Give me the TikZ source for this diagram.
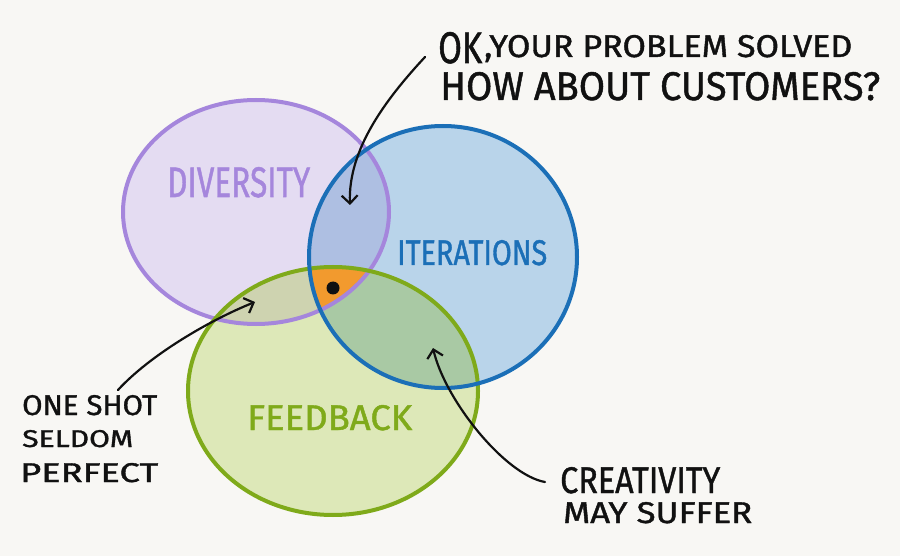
\documentclass[tikz,border=0pt]{standalone}
\usepackage{fontspec}
\setmainfont{Fira Sans}
\usepackage{graphicx}
\usetikzlibrary{arrows.meta}
\definecolor{bg}{HTML}{F8F7F4}
\definecolor{pfill}{HTML}{E4DCF2}
\definecolor{pline}{HTML}{A586DC}
\definecolor{bfill}{HTML}{B9D4EA}
\definecolor{bline}{HTML}{1B6FB7}
\definecolor{gfill}{HTML}{DDE8B8}
\definecolor{gline}{HTML}{7FAA1A}
\definecolor{pbfill}{HTML}{AEBFE2}
\definecolor{bgfill}{HTML}{A9C9A4}
\definecolor{pgfill}{HTML}{CED3B0}
\definecolor{orng}{HTML}{F29A2E}
\definecolor{ink}{HTML}{111111}
\newcommand\fitbox[3]{\resizebox{#1pt}{#2pt}{\addfontfeature{FakeBold=1.2}#3}}
\def\pathP{(256,212) ellipse [x radius=133pt, y radius=112pt]}
\def\pathB{(443,257) ellipse [x radius=134pt, y radius=131pt]}
\def\pathG{(333,391) ellipse [x radius=145pt, y radius=124pt]}
\begin{document}
\begin{tikzpicture}[x=1pt,y=-1pt,
  lbl/.style={inner sep=0pt, anchor=base west},
  rim/.style={line width=4pt},
  pointer/.style={ink, line width=2.2pt, line cap=round, -{Straight Barb[length=8pt,width=16pt,line width=2.2pt]}}]
\fill[bg] (0,0) rectangle (900,556);
\useasboundingbox (0,0) rectangle (900,556);
% fills
\fill[pfill] \pathP;
\fill[bfill] \pathB;
\fill[gfill] \pathG;
\begin{scope}\clip \pathP; \fill[pbfill] \pathB; \end{scope}
\begin{scope}\clip \pathB; \fill[bgfill] \pathG; \end{scope}
\begin{scope}\clip \pathP; \fill[pgfill] \pathG; \end{scope}
\begin{scope}\clip \pathP; \clip \pathB; \fill[orng] \pathG; \end{scope}
% outlines
\draw[rim, pline] \pathP;
\draw[rim, gline] \pathG;
\draw[rim, bline] \pathB;
\fill[ink] (333,288) circle [radius=6.5pt];
% region labels
\node[lbl, text=pline] (div) at (167,197) {\fitbox{143}{30}{DIVERSITY}};
\node[lbl, text=bline] (ite) at (397,265) {\fitbox{150}{25}{ITERATIONS}};
\node[lbl, text=gline] (fee) at (247,430) {\fitbox{165}{25}{FEEDBACK}};
% annotations
\node[lbl, text=ink] (ok) at (438,63) {\fitbox{44}{31}{OK}};
\node[lbl, text=ink] (l1) at (484,57) {\fitbox{368}{22}{,YOUR PROBLEM SOLVED}};
\node[lbl, text=ink] (l2) at (440,100) {\fitbox{440}{28}{HOW ABOUT CUSTOMERS?}};
\node[lbl, text=ink] (one) at (22,415) {\fitbox{135}{20}{ONE SHOT}};
\node[lbl, text=ink] (sel) at (22,447) {\fitbox{111}{17}{SELDOM}};
\node[lbl, text=ink] (per) at (20,482) {\fitbox{138}{19}{PERFECT}};
\node[lbl, text=ink] (cre) at (560,493) {\fitbox{160}{26}{CREATIVITY}};
\node[lbl, text=ink] (may) at (563,523) {\fitbox{189}{21}{MAY SUFFER}};
% arrows
\coordinate (s1) at (425,57);
\coordinate (t1) at (350,205);
\coordinate (s2) at (118,390);
\coordinate (t2) at (255,302);
\coordinate (s3) at (545,482);
\coordinate (t3) at (433,348);
\draw[pointer] (s1) .. controls (385,100) and (348,150) .. (t1);
\draw[pointer] (s2) .. controls (150,355) and (210,320) .. (t2);
\draw[pointer] (s3) .. controls (505,475) and (445,400) .. (t3);
\end{tikzpicture}
\end{document}
